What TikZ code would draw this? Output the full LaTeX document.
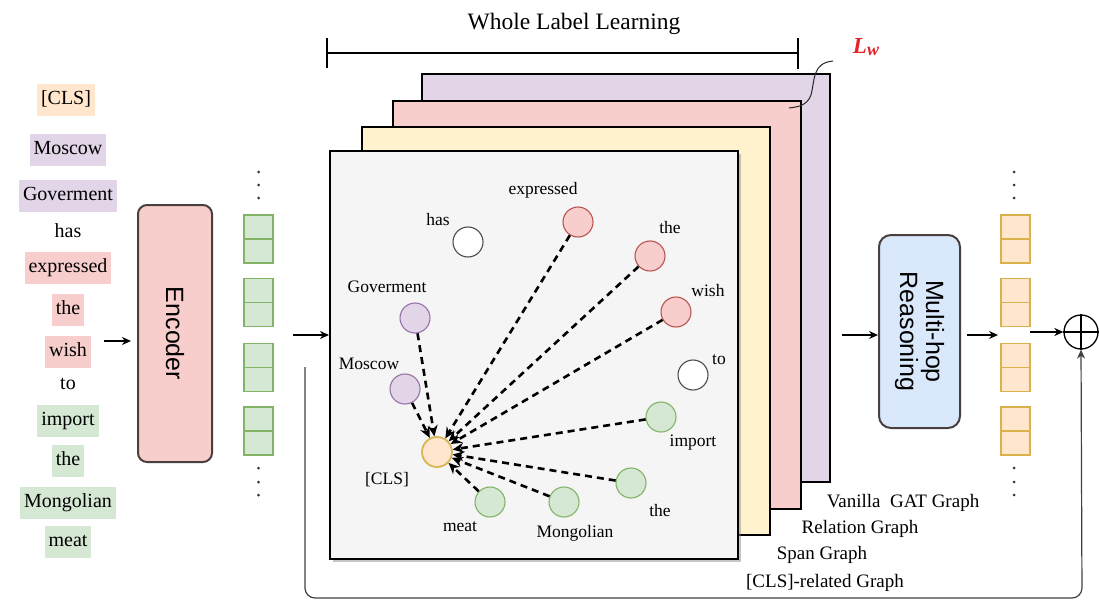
\documentclass[tikz,border=0pt]{standalone}
\usepackage{fontspec}
\setmainfont{Liberation Serif}
\setsansfont{Liberation Sans}
\usetikzlibrary{arrows.meta,shadows}
\definecolor{peach}{HTML}{FFE6CC}
\definecolor{peachd}{HTML}{D6B656}
\definecolor{lav}{HTML}{E1D5E7}
\definecolor{lavd}{HTML}{9673A6}
\definecolor{pinkc}{HTML}{F8CECC}
\definecolor{pinkd}{HTML}{B85450}
\definecolor{greenc}{HTML}{D5E8D4}
\definecolor{greend}{HTML}{82B366}
\definecolor{yell}{HTML}{FFF2CC}
\definecolor{bluec}{HTML}{DAE8FC}
\definecolor{frontc}{HTML}{F5F5F5}
\definecolor{lwred}{HTML}{E3242B}
\definecolor{boxd}{HTML}{4A3F3F}
\tikzset{
  word/.style={font=\fontsize{20}{21}\selectfont, inner xsep=4pt, inner ysep=6.5pt, text height=14pt, text depth=5pt},
  panel/.style={draw=black, line width=2.2pt, anchor=north west, minimum width=#1pt, minimum height=#1pt, inner sep=0pt},
  gnode/.style={circle, minimum size=30pt, inner sep=0pt, line width=1.1pt},
  glab/.style={font=\fontsize{17.5}{19}\selectfont, inner sep=1pt},
  gvec/.style={draw=greend, fill=greenc, line width=1.1pt, minimum width=29pt, minimum height=48pt, inner sep=0pt},
  ovec/.style={draw=peachd!90!orange, fill=peach, line width=1.1pt, minimum width=29pt, minimum height=48pt, inner sep=0pt},
  dashedge/.style={line width=2.6pt, dash pattern=on 7pt off 5pt, -{Stealth[length=11pt,width=10pt]}},
  arr/.style={line width=1.5pt, -{Stealth[length=9pt,width=8pt]}},
  dotn/.style={circle, fill=black!80, inner sep=0pt, minimum size=3pt},
  glabel/.style={font=\fontsize{19}{20}\selectfont, inner sep=0pt},
}
\begin{document}
\begin{tikzpicture}[x=1pt, y=-1pt]
\useasboundingbox (0,0) rectangle (1099,604);

% left words
\node[word, fill=peach] (w0) at (66,100) {[CLS]};
\node[word, fill=lav] (w1) at (68,150) {Moscow};
\node[word, fill=lav] (w2) at (68,196) {Goverment};
\node[word] (w3) at (68,233) {has};
\node[word, fill=pinkc] (w4) at (68,268) {expressed};
\node[word, fill=pinkc] (w5) at (68,310) {the};
\node[word, fill=pinkc] (w6) at (68,352) {wish};
\node[word] (w7) at (68,385) {to};
\node[word, fill=greenc] (w8) at (68,421) {import};
\node[word, fill=greenc] (w9) at (68,461) {the};
\node[word, fill=greenc] (w10) at (68,503) {Mongolian};
\node[word, fill=greenc] (w11) at (68,542) {meat};

% encoder
\node[draw=boxd, fill=pinkc, line width=2pt, rounded corners=9pt, minimum width=74pt, minimum height=257pt, inner sep=0pt] (enc) at (175,333.5) {};
\node[rotate=-90, font=\sffamily\fontsize{25}{26}\selectfont] (enctxt) at (enc.center) {Encoder};
\coordinate (a0) at (104,341);
\coordinate (a0e) at (131,341);
\draw[arr] (a0) -- (a0e);

% green vectors
\foreach \i/\y in {1/239,2/302.5,3/367.5,4/431}{
  \node[gvec] (g\i) at (258.5,\y) {};
  \draw[draw=greend, line width=1.1pt] (g\i.west) -- (g\i.east);
}
\foreach \i/\y in {1/172,2/185,3/198}{\node[dotn] (gt\i) at (258.5,\y) {};}
\foreach \i/\y in {1/468,2/482,3/495}{\node[dotn] (gb\i) at (258.5,\y) {};}

% orange vectors
\foreach \i/\y in {1/239,2/302.5,3/367.5,4/431}{
  \node[ovec] (o\i) at (1015.5,\y) {};
  \draw[draw=peachd!90!orange, line width=1.1pt] (o\i.west) -- (o\i.east);
}
\foreach \i/\y in {1/172,2/185,3/198}{\node[dotn] (ot\i) at (1014,\y) {};}
\foreach \i/\y in {1/468,2/482,3/495}{\node[dotn] (ob\i) at (1014,\y) {};}

% panels
\node[panel=408, fill=lav] (p4) at (421,73) {};
\node[panel=408, fill=pinkc] (p3) at (392,100) {};
\node[panel=408, fill=yell] (p2) at (361,126) {};
\node[panel=408, fill=frontc, drop shadow={shadow xshift=3pt, shadow yshift=-3pt, opacity=0.45}] (p1) at (329,150) {};

% whole label learning bracket
\coordinate (bl) at (327,53);
\coordinate (br) at (798,53);
\draw[line width=1.8pt] (bl) -- (br);
\draw[line width=1.8pt] ([yshift=-15pt]bl) -- ([yshift=15pt]bl);
\draw[line width=1.8pt] ([yshift=-16pt]br) -- ([yshift=15pt]br);
\node[font=\fontsize{23.5}{25}\selectfont] (wll) at (574,24) {Whole Label Learning};

% Lw
\node[text=lwred, font=\bfseries\itshape\fontsize{23}{24}\selectfont] (lw) at (866,47) {L\raisebox{-2pt}{\fontsize{18}{19}\selectfont w}};
\coordinate (lw0) at (833,61);
\coordinate (lw1) at (789,108);
\draw[line width=1pt, black!85] (lw0) .. controls (812,63) and (815,80) .. (811,95) .. controls (807,106) and (797,107) .. (lw1);

% graph nodes
\node[gnode, draw=pinkd, fill=pinkc] (n1) at (578,222) {};
\node[gnode, draw=black!70, fill=white] (n0) at (468,242) {};
\node[gnode, draw=pinkd, fill=pinkc] (n2) at (650,256) {};
\node[gnode, draw=pinkd, fill=pinkc] (n3) at (676,312) {};
\node[gnode, draw=lavd, fill=lav] (nG) at (415,318) {};
\node[gnode, draw=black!70, fill=white] (nto) at (693,375) {};
\node[gnode, draw=lavd, fill=lav] (nM) at (405,389) {};
\node[gnode, draw=greend, fill=greenc] (n4) at (661,417) {};
\node[gnode, draw=peachd, fill=peach, line width=1.8pt] (cls) at (437,452) {};
\node[gnode, draw=greend, fill=greenc] (n5) at (631,483) {};
\node[gnode, draw=greend, fill=greenc] (n7) at (490,502) {};
\node[gnode, draw=greend, fill=greenc] (n6) at (564,502) {};

\node[glab] (l1) at (543,190) {expressed};
\node[glab] (l0) at (438,220) {has};
\node[glab] (l2) at (670,228) {the};
\node[glab] (l3) at (708,291) {wish};
\node[glab] (lG) at (387,287) {Goverment};
\node[glab] (lto) at (719,360) {to};
\node[glab] (lM) at (369,364) {Moscow};
\node[glab] (l4) at (693,443) {import};
\node[glab] (lc) at (387,480) {[CLS]};
\node[glab] (l5) at (660,511) {the};
\node[glab] (l7) at (460,527) {meat};
\node[glab] (l6) at (575,533) {Mongolian};

\foreach \n in {nG,nM,n1,n2,n3,n4,n5,n6,n7}{
  \draw[dashedge] (\n) -- (cls);
}

% graph labels
\node[glabel] (t1) at (903,503) {Vanilla\ \ GAT Graph};
\node[glabel] (t2) at (860,529) {Relation Graph};
\node[glabel] (t3) at (822,555) {Span Graph};
\node[glabel] (t4) at (825,583) {[CLS]-related Graph};

% multi-hop
\node[draw=boxd, fill=bluec, line width=2pt, rounded corners=12pt, minimum width=81pt, minimum height=193pt, inner sep=0pt] (mh) at (919.5,331.5) {};
\node[rotate=-90, align=center, font=\sffamily\fontsize{25}{26}\selectfont] (mhtxt) at (mh.center) {Multi-hop\\Reasoning};

% plus
\node[circle, draw=black, line width=1.3pt, minimum size=34pt, inner sep=0pt] (plus) at (1081,332) {};
\draw[line width=1.3pt] (plus.north) -- (plus.south) (plus.west) -- (plus.east);

% arrows
\coordinate (a1) at (293,335);
\draw[arr] (a1) -- (p1.west |- a1);
\coordinate (a2) at (842,335);
\draw[arr] (a2) -- (mh.west |- a2);
\coordinate (a3) at (967,335);
\coordinate (a3e) at (998,335);
\draw[arr] (a3) -- (a3e);
\coordinate (a4) at (1030,332);
\draw[arr] (a4) -- (plus.west);

% feedback
\coordinate (fb0) at (305,367);
\coordinate (fb1) at (305,598);
\coordinate (fb2) at (1082,598);
\draw[line width=1.2pt, black!75, rounded corners=10pt, -{Stealth[length=9pt,width=8pt]}] (fb0) -- (fb1) -- (fb2) -- (plus.south);
\end{tikzpicture}
\end{document}
